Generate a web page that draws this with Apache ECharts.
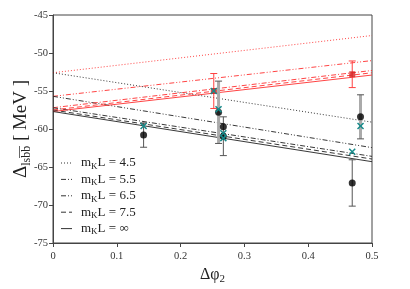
<!DOCTYPE html>
<html><head><meta charset="utf-8">
<script src="https://cdn.jsdelivr.net/npm/echarts@6/dist/echarts.min.js"></script>
<style>html,body{margin:0;padding:0;background:#fff}#c{width:410px;height:289px}</style>
</head><body><div id="c"></div>
<script>
// Fit lines: value at Δφ2 = 0 and at Δφ2 = 0.5
const lineLabels = ['4.5', '5.5', '6.5', '7.5', '\u221E'];
const lineX = [0, 0.5];
const intercepts = [-52.6, -55.7, -57.2, -57.5, -57.7];
const redEnds = [-47.7, -51.0, -52.3, -52.6, -52.9];
const blackEnds = [-59.1, -62.45, -63.6, -63.95, -64.3];

// Data points [x, y, err]
const blackThin = [[0.142, -60.8, 1.6], [0.267, -60.95, 2.55], [0.469, -67.1, 3.05]];
const blackThick = [[0.2595, -57.8, 4.1], [0.482, -58.4, 2.9]];
const blackNoErr = [[0.267, -59.7]];
const redPts = [[0.252, -55.0, 2.3], [0.469, -52.8, 1.75]];
const cyanPts = [[0.142, -59.6], [0.252, -55.0], [0.2595, -57.4], [0.267, -60.55], [0.267, -61.2], [0.469, -63.0], [0.482, -59.6]];

const xTicks = [0, 0.1, 0.2, 0.3, 0.4, 0.5];
const yTicks = [-75, -70, -65, -60, -55, -50, -45];

const dashPatterns = [[1, 2], [5, 2, 1, 2, 1, 2], [5, 2, 1, 2], [5, 3], null];

const series = [];
lineLabels.forEach((l, i) => {
  series.push({
    type: 'line', name: 'red' + i, data: lineX.map((x, k) => [x, k === 0 ? intercepts[i] : redEnds[i]]),
    symbol: 'none', silent: true, z: 2, color: '#ff3030',
    lineStyle: { color: '#ff3030', width: 1, type: dashPatterns[i] || 'solid', opacity: 0.9 }
  });
  series.push({
    type: 'line', name: 'black' + i, data: lineX.map((x, k) => [x, k === 0 ? intercepts[i] : blackEnds[i]]),
    symbol: 'none', silent: true, z: 2, color: '#222',
    lineStyle: { color: '#222', width: 1, type: dashPatterns[i] || 'solid', opacity: 0.9 }
  });
});

function errBar(color, width, capColor) {
  return function (params, api) {
    const x = api.value(0), y = api.value(1), e = api.value(2);
    const top = api.coord([x, y + e]), bot = api.coord([x, y - e]);
    const cw = 3.5;
    return {
      type: 'group', children: [
        { type: 'line', shape: { x1: top[0], y1: top[1], x2: bot[0], y2: bot[1] }, style: { stroke: color, lineWidth: width } },
        { type: 'line', shape: { x1: top[0] - cw, y1: top[1], x2: top[0] + cw, y2: top[1] }, style: { stroke: capColor, lineWidth: 1 } },
        { type: 'line', shape: { x1: bot[0] - cw, y1: bot[1], x2: bot[0] + cw, y2: bot[1] }, style: { stroke: capColor, lineWidth: 1 } }
      ]
    };
  };
}
series.push({ type: 'custom', data: blackThick, renderItem: errBar('#aaa', 3, '#555'), z: 3, silent: true });
series.push({ type: 'custom', data: blackThin, renderItem: errBar('#555', 1, '#555'), z: 3, silent: true });
series.push({ type: 'custom', data: redPts, renderItem: errBar('#ff4040', 1, '#ff4040'), z: 3, silent: true });
series.push({ type: 'scatter', data: blackThin.concat(blackThick).concat(blackNoErr).map(p => [p[0], p[1]]), symbol: 'circle', symbolSize: 7, itemStyle: { color: '#000' }, z: 4, silent: true });
series.push({ type: 'scatter', data: redPts.map(p => [p[0], p[1]]), symbol: 'rect', symbolSize: 6, itemStyle: { color: '#d42020' }, z: 4, silent: true });
series.push({
  type: 'custom', data: cyanPts, z: 5, silent: true,
  renderItem: function (params, api) {
    const c = api.coord([api.value(0), api.value(1)]), s = 3;
    return { type: 'group', children: [
      { type: 'line', shape: { x1: c[0] - s, y1: c[1] - s, x2: c[0] + s, y2: c[1] + s }, style: { stroke: '#178a8a', lineWidth: 1.5 } },
      { type: 'line', shape: { x1: c[0] - s, y1: c[1] + s, x2: c[0] + s, y2: c[1] - s }, style: { stroke: '#178a8a', lineWidth: 1.5 } }
    ] };
  }
});

const serif = 'Liberation Serif, DejaVu Serif, serif';

// hand-built legend (samples + rich text)
const legendChildren = [];
lineLabels.forEach((l, i) => {
  const y = 163 + i * 16.4;
  legendChildren.push({ type: 'line', shape: { x1: 61, y1: y, x2: 72, y2: y }, style: { stroke: '#333', lineWidth: 1, lineDash: dashPatterns[i] || null } });
  legendChildren.push({ type: 'text', x: 81, y: y, style: {
    text: '{a|m}{s|K}{a|L = ' + l + '}', verticalAlign: 'middle', align: 'left',
    rich: { a: { fontFamily: serif, fontSize: 13, fill: '#222' }, s: { fontFamily: serif, fontSize: 9, fill: '#222', padding: [7, 0, 0, 0] } }
  } });
});

const chart = echarts.init(document.getElementById('c'), null, { renderer: 'canvas' });
chart.setOption({
  animation: false,
  grid: { left: 53, right: 38, top: 15, bottom: 46, show: true, borderColor: '#444', borderWidth: 1, containLabel: false, outerBoundsMode: 'none' },
  xAxis: {
    type: 'value', min: xTicks[0], max: xTicks[xTicks.length - 1], interval: 0.1,
    axisLine: { lineStyle: { color: '#444' } }, axisTick: { length: 4, lineStyle: { color: '#444' } },
    splitLine: { show: false },
    axisLabel: { fontFamily: serif, fontSize: 10.5, color: '#333', margin: 8, formatter: v => String(+v.toFixed(1)) },
    name: '{d|\u0394\u03C6}{s|2}', nameLocation: 'middle', nameGap: 21, nameMoveOverlap: false,
    nameTextStyle: { rich: { d: { fontFamily: serif, fontSize: 16, color: '#222' }, s: { fontFamily: serif, fontSize: 11, color: '#222', padding: [10, 0, 0, 0] } } }
  },
  yAxis: {
    type: 'value', min: yTicks[0], max: yTicks[yTicks.length - 1], interval: 5,
    axisLine: { lineStyle: { color: '#444' } }, axisTick: { length: 4, lineStyle: { color: '#444' } },
    splitLine: { show: false },
    axisLabel: { fontFamily: serif, fontSize: 10.5, color: '#333', margin: 5 },
    name: '{d|\u0394}{s|lsb\u0305b\u0305}{d| [ MeV ]}', nameLocation: 'middle', nameGap: 20, nameRotate: 90, nameMoveOverlap: false,
    nameTextStyle: { rich: { d: { fontFamily: serif, fontSize: 19, color: '#222' }, s: { fontFamily: serif, fontSize: 12, color: '#222', padding: [12, 0, 0, 0] } } }
  },
  graphic: [{ type: 'group', children: legendChildren }],
  series: series
});
</script></body></html>
